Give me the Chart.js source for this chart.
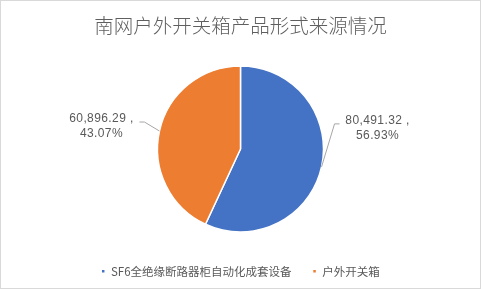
<!DOCTYPE html>
<html>
<head>
<meta charset="utf-8">
<script src="https://cdn.jsdelivr.net/npm/chart.js@4/dist/chart.umd.min.js"></script>
<style>
    html, body { margin: 0; padding: 0; background: #fff; }
    #wrap {
        width: 481px; height: 289px;
        box-sizing: border-box;
        border: 1px solid #d9d9d9;
        background: #fff;
    }
</style>
</head>
<body>
<div id="wrap"><canvas id="myPieChart" width="479" height="287"></canvas></div>
<script>
var titleText = '南网户外开关箱产品形式来源情况';
var categories = ['SF6全绝缘断路器柜自动化成套设备', '户外开关箱'];
var values = [80491.32, 60896.29];
var colors = ['#4472C4', '#ED7D31'];

function drawPieChart() {

    var total = values.reduce(function (a, b) { return a + b; }, 0);

    function formatNumber(n) {
        return n.toLocaleString('en-US', {minimumFractionDigits: 2, maximumFractionDigits: 2});
    }

    // value + percent labels with a bent leader line, Excel style
    var leaderLabels = {
        id: 'leaderLabels',
        afterDatasetsDraw: function (chart, args, opts) {
            var ctx = chart.ctx;
            var arcs = chart.getDatasetMeta(0).data;
            ctx.save();
            arcs.forEach(function (arc, i) {
                var p = arc.getProps(['x', 'y', 'startAngle', 'endAngle', 'outerRadius'], true);
                var mid = (p.startAngle + p.endAngle) / 2;
                var x0 = p.x + Math.cos(mid) * p.outerRadius;
                var y0 = p.y + Math.sin(mid) * p.outerRadius;
                var bend = opts.bends[i];
                var side = bend[0] >= 0 ? 1 : -1;
                var x1 = x0 + bend[0];
                var y1 = y0 + bend[1];
                var x2 = x1 + side * 5;

                ctx.strokeStyle = '#a6a6a6';
                ctx.lineWidth = 1;
                ctx.beginPath();
                ctx.moveTo(x0, y0);
                ctx.lineTo(x1, y1);
                ctx.lineTo(x2, y1);
                ctx.stroke();

                var v = chart.data.datasets[0].data[i];
                var pct = (v / total * 100).toFixed(2) + '%';
                ctx.fillStyle = '#595959';
                ctx.font = '12px "Liberation Sans", sans-serif';
                ctx.letterSpacing = '0.4px';
                ctx.textAlign = 'center';
                ctx.textBaseline = 'middle';
                var tx = x2 + side * 38;
                ctx.fillText(formatNumber(v) + ' ,', tx, y1 - 3);
                ctx.fillText(pct, tx, y1 + 12);
            });
            ctx.restore();
        }
    };

    var ctx = document.getElementById('myPieChart').getContext('2d');

    var myPieChart = new Chart(ctx, {
        type: 'pie',
        data: {
            labels: categories,
            datasets: [{
                data: values,
                backgroundColor: colors,
                borderColor: '#ffffff',
                borderWidth: 1.5,
                hoverOffset: 0
            }]
        },
        options: {
            responsive: false,
            animation: false,
            events: [],
            radius: 83,
            layout: {padding: {top: 0, bottom: 1, left: 0, right: 0}},
            plugins: {
                title: {
                    display: true,
                    text: titleText,
                    color: '#5f5f5f',
                    font: {family: '"Noto Sans CJK SC", sans-serif', size: 19.5, weight: 300, lineHeight: 1.2},
                    padding: {top: 12.5, bottom: 16.5}
                },
                legend: {
                    position: 'bottom',
                    labels: {
                        color: '#595959',
                        font: {family: '"Noto Sans CJK SC", sans-serif', size: 11.5},
                        boxWidth: 4,
                        boxHeight: 4,
                        padding: 21
                    }
                },
                tooltip: {enabled: false},
                leaderLabels: {
                    bends: [[13, -43], [-15, -9]]
                }
            }
        },
        plugins: [leaderLabels]
    });
}

drawPieChart();
</script>
</body>
</html>
